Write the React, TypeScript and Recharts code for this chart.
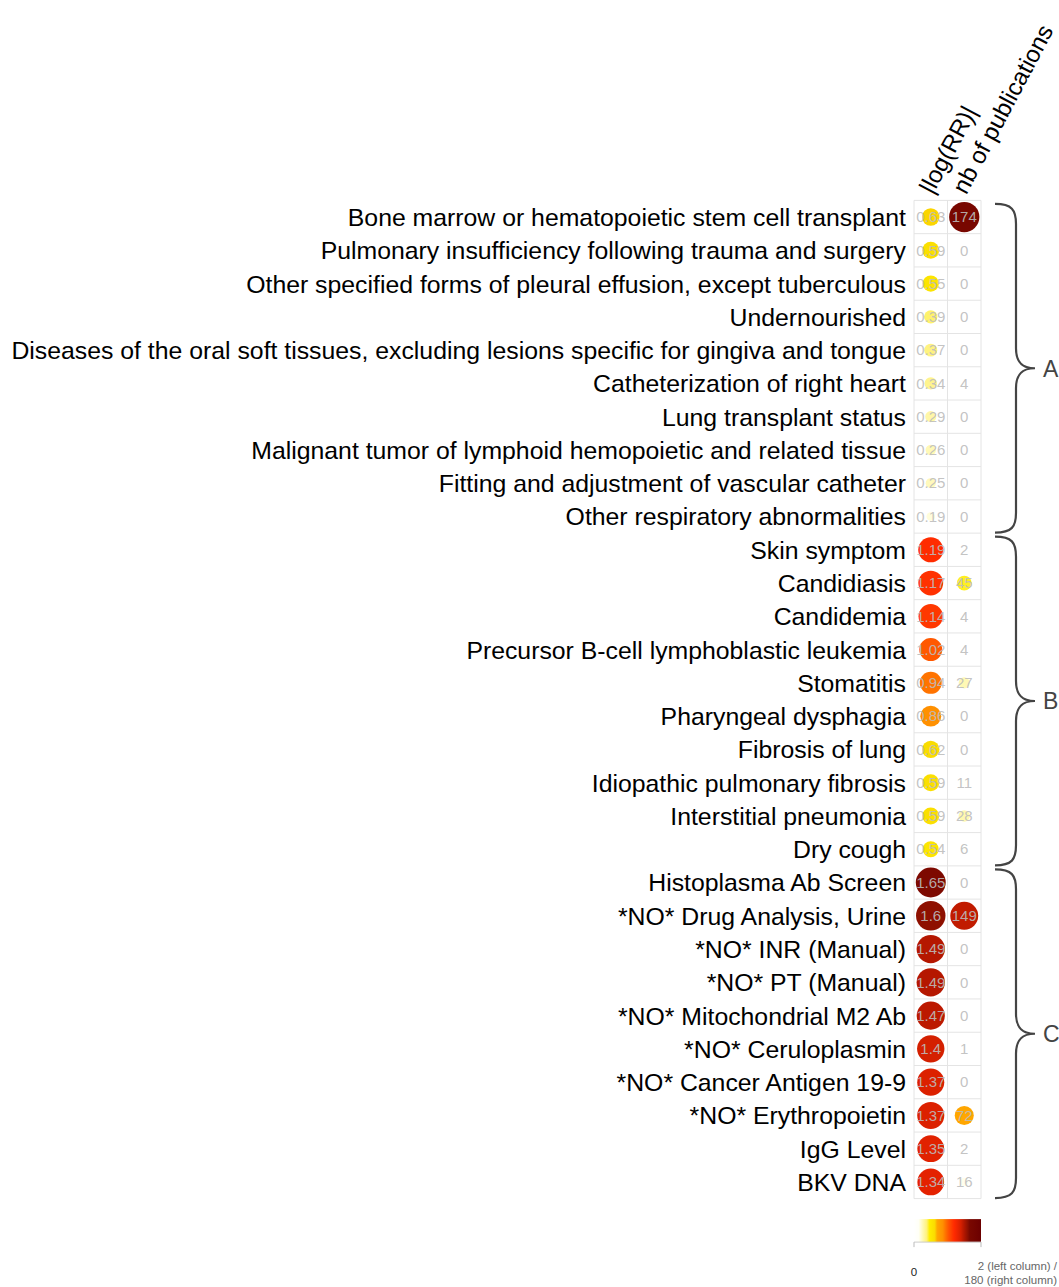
import React from "react";
import { ScatterChart, Scatter, XAxis, YAxis, ReferenceLine, ReferenceArea } from "recharts";

// rows top to bottom
const rowNames = [
  "Bone marrow or hematopoietic stem cell transplant",
  "Pulmonary insufficiency following trauma and surgery",
  "Other specified forms of pleural effusion, except tuberculous",
  "Undernourished",
  "Diseases of the oral soft tissues, excluding lesions specific for gingiva and tongue",
  "Catheterization of right heart",
  "Lung transplant status",
  "Malignant tumor of lymphoid hemopoietic and related tissue",
  "Fitting and adjustment of vascular catheter",
  "Other respiratory abnormalities",
  "Skin symptom",
  "Candidiasis",
  "Candidemia",
  "Precursor B-cell lymphoblastic leukemia",
  "Stomatitis",
  "Pharyngeal dysphagia",
  "Fibrosis of lung",
  "Idiopathic pulmonary fibrosis",
  "Interstitial pneumonia",
  "Dry cough",
  "Histoplasma Ab Screen",
  "*NO* Drug Analysis, Urine",
  "*NO* INR (Manual)",
  "*NO* PT (Manual)",
  "*NO* Mitochondrial M2 Ab",
  "*NO* Ceruloplasmin",
  "*NO* Cancer Antigen 19-9",
  "*NO* Erythropoietin",
  "IgG Level",
  "BKV DNA",
];

const logRR = [
  0.63, 0.59, 0.55, 0.39, 0.37, 0.34, 0.29, 0.26, 0.25, 0.19,
  1.19, 1.17, 1.14, 1.02, 0.94, 0.86, 0.62, 0.59, 0.59, 0.54,
  1.65, 1.6, 1.49, 1.49, 1.47, 1.4, 1.37, 1.37, 1.35, 1.34,
];

const pubs = [
  174, 0, 0, 0, 0, 4, 0, 0, 0, 0,
  2, 45, 4, 4, 27, 0, 0, 11, 28, 6,
  0, 149, 0, 0, 0, 1, 0, 72, 2, 16,
];

const columnTitles = ["|log(RR)|", "nb of publications"];
const groupLabels = ["A", "B", "C"];
const groupStart = [0, 10, 20];
const groupEnd = [9, 19, 29];
const legendLabels = ["0", "2 (left column) /", "180 (right column)"];

const LOG_MAX = 2;
const PUB_MAX = 180;
const PUB_COLOR_MAX = 205;

const W = 1059;
const H = 1287;
const M = { top: 0, right: 78, bottom: 88.4, left: 0 };
const FONT = "'Liberation Sans', Arial, Helvetica, sans-serif";

// colour ramp white -> yellow -> orange -> red -> dark red
const ramp: [number, string][] = [
  [0, "#ffffff"],
  [0.07, "#fffff6"],
  [0.12, "#fffac0"],
  [0.19, "#fff27a"],
  [0.23, "#ffee00"],
  [0.31, "#fadc00"],
  [0.345, "#ffa800"],
  [0.37, "#ffa000"],
  [0.43, "#ff9000"],
  [0.47, "#ff7300"],
  [0.51, "#ff5800"],
  [0.58, "#ff3300"],
  [0.6, "#ff2a00"],
  [0.67, "#e42200"],
  [0.7, "#d42000"],
  [0.74, "#b81800"],
  [0.8, "#8e1000"],
  [0.83, "#7a0800"],
  [1, "#6b0000"],
];

function hex(c: string) {
  return [1, 3, 5].map((i) => parseInt(c.slice(i, i + 2), 16));
}

function colorAt(t: number) {
  t = Math.max(0, Math.min(1, t));
  for (let i = 1; i < ramp.length; i++) {
    if (t <= ramp[i][0]) {
      const [t0, c0] = ramp[i - 1];
      const [t1, c1] = ramp[i];
      const f = (t - t0) / (t1 - t0);
      const a = hex(c0), b = hex(c1);
      const m = a.map((v, k) => Math.round(v + (b[k] - v) * f));
      return `rgb(${m[0]},${m[1]},${m[2]})`;
    }
  }
  return ramp[ramp.length - 1][1];
}

function radius(t: number, col: number) {
  return col === 0
    ? Math.max(0, 17.8 * Math.sqrt(t) - 1.2)
    : Math.max(0, 16 * Math.sqrt(t) - 0.6);
}

const leftData = rowNames.map((_, i) => ({ x: 0, y: i, v: logRR[i] }));
const rightData = rowNames.map((_, i) => ({ x: 1, y: i, v: pubs[i] }));
const rowTicks = rowNames.map((_, i) => i);
const rowEdges = [...rowTicks, rowNames.length].map((i) => i - 0.5);

function Bubble(props: any) {
  const { cx, cy, payload, col } = props;
  if (cx == null || cy == null) return null;
  const v = payload.v;
  const sizeT = col === 0 ? v / LOG_MAX : v / PUB_MAX;
  const colT = col === 0 ? v / LOG_MAX : v / PUB_COLOR_MAX;
  return (
    <g>
      <circle cx={cx} cy={cy} r={radius(sizeT, col)} fill={colorAt(colT)} />
      <text
        x={cx}
        y={cy}
        dy="0.35em"
        textAnchor="middle"
        fontSize={15}
        fontFamily={FONT}
        fill="#bcbcbc"
        fillOpacity={0.9}
      >
        {String(v)}
      </text>
    </g>
  );
}

function RowTick(props: any) {
  const { x, y, payload } = props;
  return (
    <text x={x} y={y} dy="0.36em" textAnchor="end" fontSize={24.8} fontFamily={FONT} fill="#000">
      {rowNames[payload.value]}
    </text>
  );
}

function HeaderTick(props: any) {
  const { x, y, payload } = props;
  const tx = x + 2;
  const ty = y + 3;
  return (
    <text
      x={tx}
      y={ty}
      transform={`rotate(-62 ${tx} ${ty})`}
      textAnchor="start"
      fontSize={24}
      fontFamily={FONT}
      fill="#000"
    >
      {columnTitles[payload.value]}
    </text>
  );
}

function Brace(props: any) {
  const { x, y, width, height, label } = props;
  const right = x + width;
  const xl = right + 14;
  const xm = right + 35;
  const xt = right + 54;
  const yt = y + 3.5;
  const yb = y + height - 0.5;
  const ym = (yt + yb) / 2;
  const d = [
    `M ${xl} ${yt}`,
    `C ${xm - 4} ${yt}, ${xm} ${yt + 6}, ${xm} ${yt + 20}`,
    `L ${xm} ${ym - 20}`,
    `C ${xm} ${ym - 6}, ${xm + 6} ${ym}, ${xt} ${ym}`,
    `C ${xm + 6} ${ym}, ${xm} ${ym + 6}, ${xm} ${ym + 20}`,
    `L ${xm} ${yb - 20}`,
    `C ${xm} ${yb - 6}, ${xm - 4} ${yb}, ${xl} ${yb}`,
  ].join(" ");
  return (
    <g>
      <path d={d} fill="none" stroke="#444" strokeWidth={2.2} />
      <text x={xt + 8} y={ym} dy="0.36em" fontSize={23} fontFamily={FONT} fill="#444">
        {label}
      </text>
    </g>
  );
}

function ColorLegend() {
  const x0 = M.left + 914;
  const x1 = W - M.right;
  const y0 = H - M.bottom + 20.5;
  const bh = 23;
  return (
    <g>
      <defs>
        <linearGradient id="heat" x1="0" y1="0" x2="1" y2="0">
          {ramp.map(([t, c]) => (
            <stop key={t} offset={t} stopColor={c} />
          ))}
        </linearGradient>
      </defs>
      <rect x={x0} y={y0} width={x1 - x0} height={bh} fill="url(#heat)" />
      <line x1={x0} x2={x1} y1={y0 + bh} y2={y0 + bh} stroke="#ccc" />
      <line x1={x0} x2={x0} y1={y0 + bh} y2={y0 + bh + 5} stroke="#bbb" />
      <line x1={x1} x2={x1} y1={y0 + bh} y2={y0 + bh + 5} stroke="#bbb" />
      <text x={x0} y={y0 + 57} textAnchor="middle" fontSize={11.5} fontFamily={FONT} fill="#222">
        {legendLabels[0]}
      </text>
      <text x={W - 2} y={y0 + 51} textAnchor="end" fontSize={11.5} fontFamily={FONT} fill="#666">
        {legendLabels[1]}
      </text>
      <text x={W - 2} y={y0 + 65} textAnchor="end" fontSize={11.5} fontFamily={FONT} fill="#666">
        {legendLabels[2]}
      </text>
    </g>
  );
}

export default function App() {
  return (
    <div style={{ position: "absolute", left: 0, top: 0, width: W, height: H, background: "#fff" }}>
      <ScatterChart width={W} height={H} margin={M}>
        <XAxis
          type="number"
          dataKey="x"
          orientation="top"
          domain={[-0.5, 1.5]}
          ticks={[0, 1]}
          interval={0}
          height={200.4}
          axisLine={false}
          tickLine={false}
          tick={<HeaderTick />}
        />
        <YAxis
          type="number"
          dataKey="y"
          domain={[-0.5, 29.5]}
          reversed
          ticks={rowTicks}
          interval={0}
          width={914}
          axisLine={false}
          tickLine={false}
          tick={<RowTick />}
        />
        {rowEdges.map((e) => (
          <ReferenceLine key={"h" + e} y={e} stroke="#e4e4e4" strokeWidth={1} />
        ))}
        {[-0.5, 0.5, 1.5].map((e) => (
          <ReferenceLine key={"v" + e} x={e} stroke="#e4e4e4" strokeWidth={1} />
        ))}
        {groupLabels.map((g, i) => (
          <ReferenceArea
            key={g}
            y1={groupStart[i] - 0.5}
            y2={groupEnd[i] + 0.5}
            ifOverflow="visible"
            shape={(p: any) => <Brace {...p} label={g} />}
          />
        ))}
        <Scatter data={leftData} isAnimationActive={false} shape={(p: any) => <Bubble {...p} col={0} />} />
        <Scatter data={rightData} isAnimationActive={false} shape={(p: any) => <Bubble {...p} col={1} />} />
        <ColorLegend />
      </ScatterChart>
    </div>
  );
}
